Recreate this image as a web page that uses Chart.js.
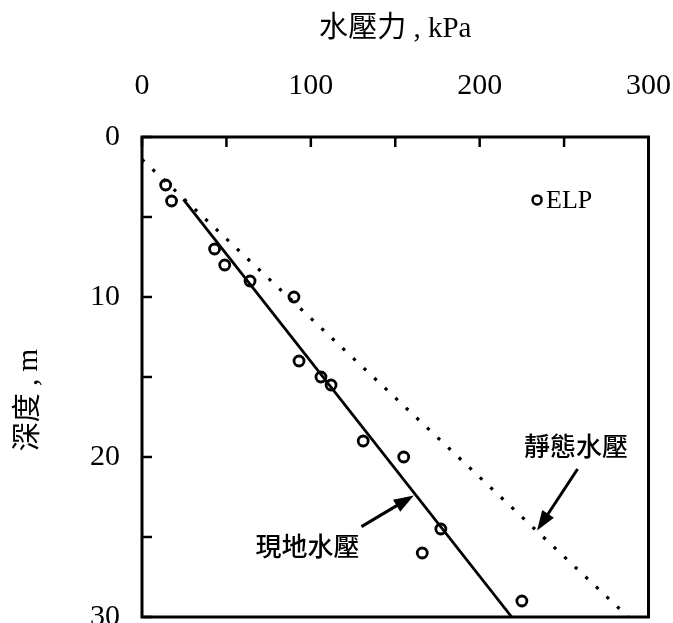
<!DOCTYPE html>
<html>
<head>
<meta charset="utf-8">
<script src="https://cdn.jsdelivr.net/npm/chart.js@4.4.1/dist/chart.umd.min.js"></script>
<style>
    body { margin: 0; background: #fff; }
    #wrap { width: 673px; height: 623px; overflow: hidden; }
</style>
</head>
<body>
<div id="wrap"><canvas id="grafico" width="704" height="660"></canvas></div>
<script>
// Datos (ELP)
const presion = [14, 17.5, 43, 49, 64, 90, 93, 106, 112, 131, 155, 177, 166, 225];
const profundidad = [3, 4, 7, 8, 9, 10, 14, 15, 15.5, 19, 20, 24.5, 26, 29];

// Línea de presión in situ (現地水壓)
const insituPresion = [24.5, 219];
const insituProf = [3.9, 30];

// Línea hidrostática (靜態水壓)
const estaticaPresion = [0, 288];
const estaticaProf = [1.4, 30];

const ticksX = [0, 100, 200, 300];
const ticksY = [0, 10, 20, 30];

const SERIF = "'Liberation Serif', 'Noto Sans CJK TC', serif";
const CJK = "'Noto Sans CJK TC', sans-serif";

// Etiquetas con flecha, en unidades de datos
const notas = [
    { texto: '現地水壓', x: 98, y: 25.6, desde: [130, 24.35], hasta: [161, 22.4] },
    { texto: '靜態水壓', x: 257, y: 19.3, desde: [258, 20.75], hasta: [234, 24.6] }
];

function flecha(ctx, x1, y1, x2, y2) {
    const ang = Math.atan2(y2 - y1, x2 - x1);
    const largo = 20, ancho = 7;
    ctx.beginPath();
    ctx.moveTo(x1, y1);
    ctx.lineTo(x2 - Math.cos(ang) * largo * 0.8, y2 - Math.sin(ang) * largo * 0.8);
    ctx.lineWidth = 3;
    ctx.stroke();
    ctx.beginPath();
    ctx.moveTo(x2, y2);
    ctx.lineTo(x2 - Math.cos(ang) * largo + Math.sin(ang) * ancho, y2 - Math.sin(ang) * largo - Math.cos(ang) * ancho);
    ctx.lineTo(x2 - Math.cos(ang) * largo - Math.sin(ang) * ancho, y2 - Math.sin(ang) * largo + Math.cos(ang) * ancho);
    ctx.closePath();
    ctx.fill();
}

const marco = {
    id: 'marco',
    afterDatasetsDraw(chart) {
        const { ctx, chartArea: a, scales: { x, y } } = chart;
        ctx.save();
        ctx.strokeStyle = '#000';
        ctx.fillStyle = '#000';
        ctx.lineWidth = 3;
        ctx.strokeRect(a.left, a.top, a.right - a.left, a.bottom - a.top);

        // marcas hacia adentro
        ctx.lineWidth = 2.5;
        for (let v = 0; v <= 300; v += 50) {
            const px = x.getPixelForValue(v);
            ctx.beginPath(); ctx.moveTo(px, a.top); ctx.lineTo(px, a.top + 10); ctx.stroke();
        }
        for (let v = 0; v <= 30; v += 5) {
            const py = y.getPixelForValue(v);
            ctx.beginPath(); ctx.moveTo(a.left, py); ctx.lineTo(a.left + 10, py); ctx.stroke();
        }

        // notas
        ctx.font = '500 26px ' + CJK;
        ctx.textAlign = 'center';
        ctx.textBaseline = 'middle';
        notas.forEach(n => {
            ctx.fillText(n.texto, x.getPixelForValue(n.x), y.getPixelForValue(n.y));
            flecha(ctx, x.getPixelForValue(n.desde[0]), y.getPixelForValue(n.desde[1]),
                x.getPixelForValue(n.hasta[0]), y.getPixelForValue(n.hasta[1]));
        });

        // leyenda
        const lx = a.left + (a.right - a.left) * 0.78;
        const ly = a.top + (a.bottom - a.top) * 0.131;
        ctx.lineWidth = 2.5;
        ctx.beginPath(); ctx.arc(lx, ly, 4.5, 0, Math.PI * 2); ctx.stroke();
        ctx.font = '26px ' + SERIF;
        ctx.textAlign = 'left';
        ctx.fillText('ELP', lx + 9, ly + 1);

        // título eje Y
        ctx.save();
        ctx.translate(29, 400);
        ctx.rotate(-Math.PI / 2);
        ctx.textAlign = 'center';
        ctx.font = '29px ' + SERIF;
        ctx.fillText('深度 , m', 0, 0);
        ctx.restore();

        ctx.restore();
    }
};

new Chart(document.getElementById('grafico').getContext('2d'), {
    type: 'scatter',
    data: {
        datasets: [
            {
                label: 'ELP',
                data: presion.map((p, i) => ({ x: p, y: profundidad[i] })),
                pointStyle: 'circle',
                pointRadius: 5,
                borderWidth: 2.8,
                borderColor: '#000',
                backgroundColor: 'rgba(255,255,255,0)'
            },
            {
                label: '現地水壓',
                data: insituPresion.map((p, i) => ({ x: p, y: insituProf[i] })),
                showLine: true,
                pointRadius: 0,
                borderWidth: 2.8,
                borderColor: '#000'
            },
            {
                label: '靜態水壓',
                data: estaticaPresion.map((p, i) => ({ x: p, y: estaticaProf[i] })),
                showLine: true,
                pointRadius: 0,
                borderWidth: 3.2,
                borderDash: [3.2, 11.3],
                borderColor: '#000'
            }
        ]
    },
    options: {
        responsive: false,
        animation: false,
        layout: { padding: { left: 0, top: 0, right: 0, bottom: 43 } },
        plugins: { legend: { display: false }, tooltip: { enabled: false } },
        scales: {
            x: {
                type: 'linear',
                position: 'top',
                min: 0,
                max: 300,
                afterBuildTicks: s => { s.ticks = ticksX.map(v => ({ value: v })); },
                afterFit: s => { s.height = 137; },
                grid: { display: false, drawTicks: false },
                border: { display: false },
                ticks: { color: '#000', padding: 33, font: { family: SERIF, size: 30 } },
                title: {
                    display: true,
                    text: '水壓力 , kPa',
                    color: '#000',
                    padding: { top: 12 },
                    font: { family: SERIF, size: 29 }
                }
            },
            y: {
                type: 'linear',
                reverse: true,
                min: 0,
                max: 30,
                afterBuildTicks: s => { s.ticks = ticksY.map(v => ({ value: v })); },
                afterFit: s => { s.width = 142; },
                grid: { display: false, drawTicks: false },
                border: { display: false },
                ticks: { color: '#000', padding: 22, font: { family: SERIF, size: 30 } }
            }
        }
    },
    plugins: [marco]
});
</script>
</body>
</html>
